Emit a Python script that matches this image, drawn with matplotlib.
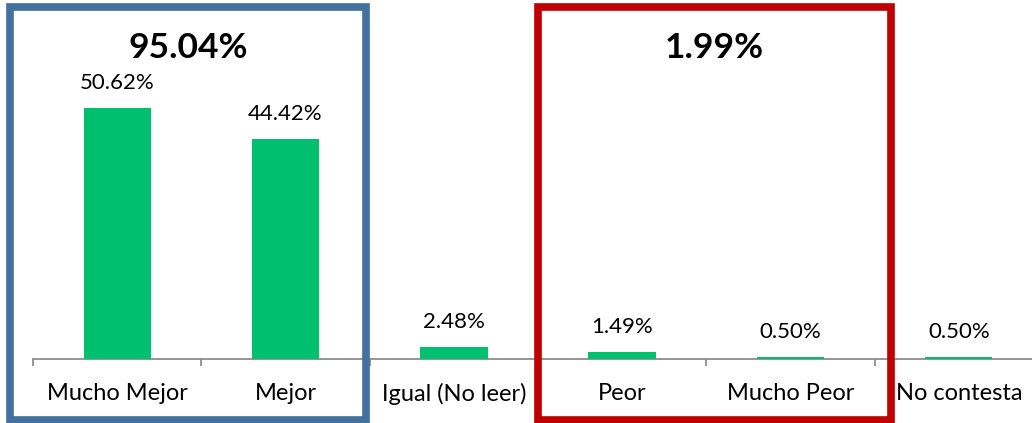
import matplotlib.pyplot as plt
from matplotlib.patches import Rectangle
import matplotlib.transforms as mtransforms

categories = ['Mucho Mejor', 'Mejor', 'Igual (No leer)', 'Peor', 'Mucho Peor', 'No contesta']
values = [50.62, 44.42, 2.48, 1.49, 0.50, 0.50]

# grouped totals shown on top of the framed groups
group_members = [[0, 1], [3, 4]]
group_totals = ['95.04%', '1.99%']
group_colors = ['#41719C', '#C00000']
# how far each frame reaches past its outer bars (left, right), in category units
frame_pads = [(0.636, 0.48), (0.50, 0.60)]

bar_color = '#00BF6F'
axis_gray = '#8C8C8C'

plt.rcParams['font.family'] = ['Lato', 'DejaVu Sans']

fig = plt.figure(figsize=(10.32, 4.23), dpi=100)
ax = fig.add_axes([33 / 1032, 64 / 423, 1010 / 1032, 359 / 423])

x = list(range(len(categories)))
ax.bar(x, values, width=0.40, color=bar_color, zorder=3)

for xi, v in zip(x, values):
    ax.annotate(f'{v:.2f}%', (xi, v), xytext=(0, 18), textcoords='offset points',
                ha='center', va='center', fontsize=16, color='#000000')

ax.set_xlim(-0.5, len(categories) - 0.5)
ax.set_ylim(0, 72.4)

for side in ['top', 'right', 'left']:
    ax.spines[side].set_visible(False)
ax.spines['bottom'].set_color(axis_gray)
ax.spines['bottom'].set_linewidth(1.3)
ax.set_yticks([])

ax.set_xticks(x)
ax.set_xticklabels(categories, fontsize=17)
ax.tick_params(axis='x', which='major', length=0, pad=17.5)
ax.set_xticks([i - 0.5 for i in range(len(categories) + 1)], minor=True)
ax.tick_params(axis='x', which='minor', length=5, width=1.3, color=axis_gray, direction='out')

# frames around the grouped categories, x in data units, y in figure fraction
trans = mtransforms.blended_transform_factory(ax.transData, fig.transFigure)
for members, total, color, (pad_l, pad_r) in zip(group_members, group_totals, group_colors, frame_pads):
    left = min(members) - pad_l
    right = max(members) + pad_r
    rect = Rectangle((left, 3 / 423), right - left, 412.5 / 423, transform=trans,
                     fill=False, edgecolor=color, linewidth=5.5, clip_on=False, zorder=3)
    fig.add_artist(rect)
    fig.text((left + right) / 2, 1 - 48 / 423, total, transform=trans,
             ha='center', va='center', fontsize=25.5, fontweight='bold')

fig.savefig('out.png', dpi=100)
